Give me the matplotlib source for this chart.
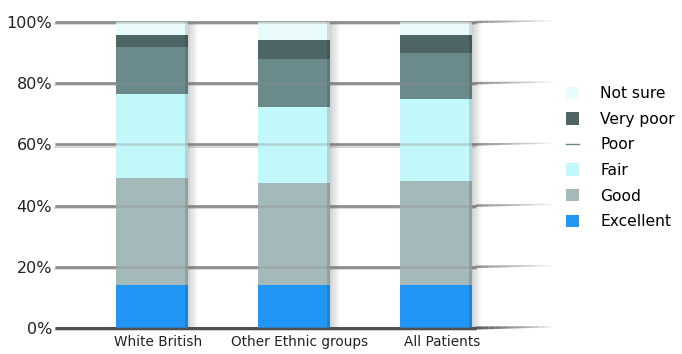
import matplotlib
matplotlib.use("Agg")
import matplotlib.pyplot as plt
from matplotlib.patches import Rectangle, Patch
from matplotlib.lines import Line2D
import matplotlib.transforms as mtransforms
import numpy as np

categories = ["White British", "Other Ethnic groups", "All Patients"]
series_names = ["Excellent", "Good", "Fair", "Poor", "Very poor", "Not sure"]
excellent = [14.1, 14.1, 14.1]
good = [34.9, 33.3, 33.9]
fair = [27.5, 24.8, 26.8]
poor = [15.3, 15.7, 15.1]
very_poor = [4.0, 6.2, 5.9]
not_sure = [4.2, 5.9, 4.1]
y_ticks = [0, 20, 40, 60, 80, 100]
y_tick_labels = ["0%", "20%", "40%", "60%", "80%", "100%"]

colors = ["#2196f7", "#a4b9b9", "#c2f8fa", "#6a8a8b", "#4e6566", "#eafbfc"]
series = [excellent, good, fair, poor, very_poor, not_sure]

fig = plt.figure(figsize=(6.82, 3.54), dpi=100)
ax = fig.add_axes([55 / 682, 26 / 354, 435 / 682, 306 / 354])
x0, x1 = -0.683, 2.38
ax.set_xlim(x0, x1)
ax.set_ylim(0, 100)

x = np.arange(len(categories))
width = 0.507

# gridlines with a soft shadow and a thin fading tail to the right
for yt in y_ticks:
    lw = 2.2 if yt == 0 else 1.8
    col = "#505050" if yt == 0 else "#8a8a8a"
    ax.plot([x0, 2.28], [yt, yt], color=col, lw=lw, zorder=1,
            solid_capstyle="butt", clip_on=False)
    ax.plot([x0, 2.28], [yt - 0.7, yt - 0.7], color="#d0d0d0", lw=1.2,
            zorder=0.9, clip_on=False)
    # over the bars, faintly
    ax.plot([x0, 2.28], [yt, yt], color=col, lw=lw, zorder=3, alpha=0.35,
            solid_capstyle="butt", clip_on=False)
    n = 12
    tail_x = np.linspace(2.28, 2.28 + 75 / 142, n + 1)
    for k in range(n):
        f = 1 - k / n
        ax.plot(tail_x[k:k + 2], [yt + 0.4 * k / n, yt + 0.4 * (k + 1) / n],
                color=col, lw=lw * (0.4 + 0.6 * f), alpha=0.9 * f ** 0.7,
                solid_capstyle="butt", clip_on=False, zorder=1)

# bar drop shadows
for xi in x:
    right = xi + width / 2
    for k in range(10):
        ax.add_patch(Rectangle((right + k * 0.008, 0), 0.008, 100,
                               facecolor="#5a5a5a", alpha=0.28 * (1 - k / 10) ** 1.5,
                               edgecolor="none", zorder=1.5))

bottom = np.zeros(len(categories))
for name, vals, c in zip(series_names, series, colors):
    ax.bar(x, vals, width, bottom=bottom, color=c, edgecolor="none",
           zorder=2, label=name)
    bottom += np.array(vals)

# darker right edge on each bar
for xi in x:
    ax.add_patch(Rectangle((xi + width / 2 - 0.02, 0), 0.02, 100,
                           facecolor="#000000", alpha=0.12, edgecolor="none",
                           zorder=2.5))

ax.set_yticks(y_ticks)
ax.set_yticklabels(y_tick_labels, fontsize=11.5, color="#222222")
ax.set_xticks(x)
ax.set_xticklabels(categories, fontsize=9.8, color="#222222")
ax.tick_params(axis="both", length=0, pad=2)
ax.tick_params(axis="x", pad=5)
shift = mtransforms.ScaledTranslation(6 / 100, 0, fig.dpi_scale_trans)
for lbl in ax.get_xticklabels():
    lbl.set_transform(lbl.get_transform() + shift)
for s in ax.spines.values():
    s.set_visible(False)

handles = [
    Patch(facecolor=colors[5], edgecolor="none"),
    Patch(facecolor=colors[4], edgecolor="none"),
    Line2D([0], [0], color=colors[3], lw=1),
    Patch(facecolor=colors[2], edgecolor="none"),
    Patch(facecolor=colors[1], edgecolor="none"),
    Patch(facecolor=colors[0], edgecolor="none"),
]
labels = ["Not sure", "Very poor", "Poor", "Fair", "Good", "Excellent"]
fig.legend(handles, labels, loc="upper left", bbox_to_anchor=(560 / 682, 1 - 80 / 354),
           frameon=False, fontsize=11.2, handlelength=0.85, handleheight=0.85,
           labelspacing=0.68, handletextpad=1.35, borderaxespad=0)

fig.savefig("out.png", dpi=100)
